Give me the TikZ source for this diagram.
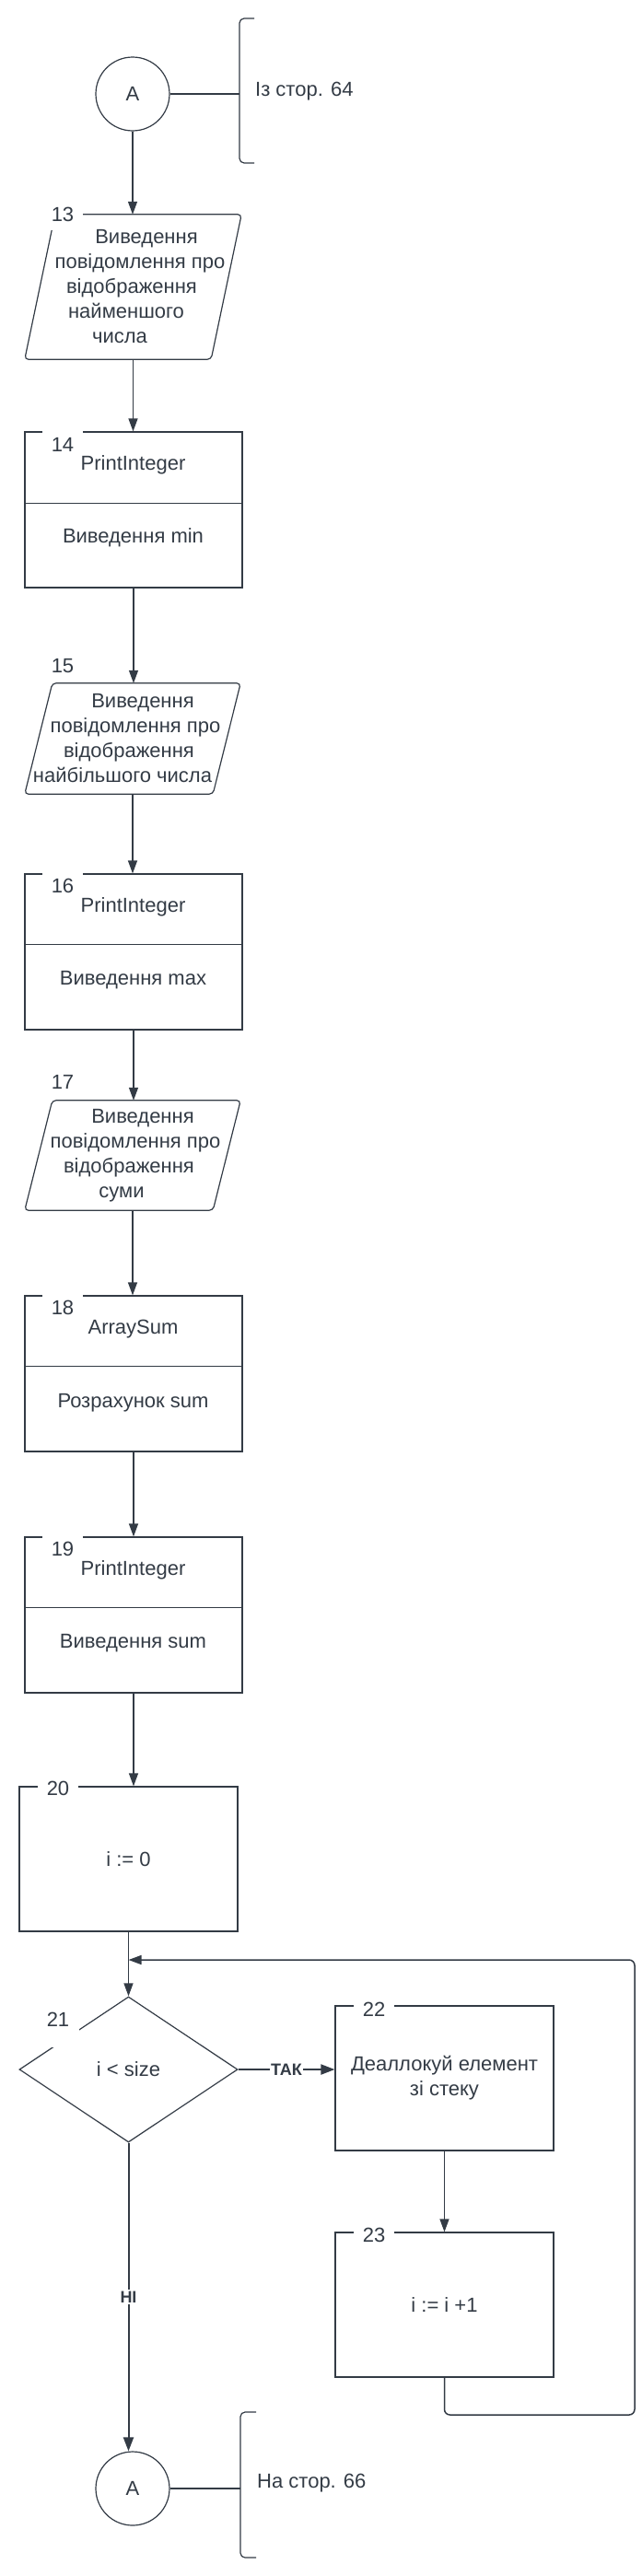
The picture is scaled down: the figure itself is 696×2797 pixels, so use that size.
\documentclass[tikz,border=0pt]{standalone}
\usepackage{fontspec}
\setmainfont{Liberation Sans}
\usetikzlibrary{arrows.meta,shapes.geometric,calc}
\definecolor{ink}{HTML}{333B45}
\newcommand\shln[2]{\makebox[0pt][c]{\hspace*{#1}\hspace*{#1}#2}}
\begin{document}
\begin{tikzpicture}[x=1pt,y=-1pt,
  every node/.style={text=ink, font=\fontsize{22pt}{27pt}\selectfont},
  ln/.style={draw=ink, line width=1.2pt},
  arr/.style={ln, -{Triangle[length=14pt,width=10pt]}},
  thk/.style={draw=ink, line width=2pt, -{Triangle[length=15pt,width=11pt]}},
  rbox/.style={draw=ink, line width=1.2pt, rectangle, inner sep=0pt, align=center},
  pbox/.style={rectangle, inner sep=0pt, align=center},
  num/.style={fill=white, inner xsep=10pt, inner ysep=9pt},
  txt/.style={inner sep=1pt},
  cond/.style={font=\bfseries\fontsize{18pt}{21pt}\selectfont, fill=white, inner xsep=1pt, inner ysep=2pt},
  conn/.style={circle, draw=ink, line width=1.2pt, minimum size=80pt, inner sep=0pt},
  dia/.style={diamond, draw=ink, line width=1.2pt, inner sep=0pt, minimum width=237pt, minimum height=158pt}
]
\useasboundingbox (0,0) rectangle (696,2797);

% --- top connector
\node[conn] (a1) at (144,102) {A};
\draw[ln, rounded corners=5pt] (276,20) -- (260,20) -- (260,177) -- (276,177);
\coordinate (br1) at (260,102);
\draw[ln] (a1.east) -- (br1);
\node[txt, anchor=west] (s1) at (276,99) {Із стор. 64};

% --- 13
\node[pbox, minimum width=235pt, minimum height=157pt] (p13) at (144.5,311.5)
  {\shln{14.5pt}{Виведення}\\ \shln{7.5pt}{повідомлення про}\\ \shln{-1.5pt}{відображення}\\ \shln{-7.5pt}{найменшого}\\ \shln{-14.5pt}{числа}};
\draw[ln, rounded corners=4pt] (p13.south west) -- ([xshift=33pt]p13.north west) -- (p13.north east) -- ([xshift=-33pt]p13.south east) -- cycle;
\node[num] (n13) at (68,233) {13};

% --- 14
\node[rbox, minimum width=236pt, minimum height=169pt] (b14) at (145,553.5) {};
\draw[ln] ([yshift=-78pt]b14.north west) -- ([yshift=-78pt]b14.north east);
\node[num] (n14) at (68,483) {14};
\node (t14a) at (144.5,505) {PrintInteger};
\node (t14b) at (144.5,584) {Виведення min};

% --- 15
\node[pbox, minimum width=234pt, minimum height=120pt] (p15) at (144,802)
  {\shln{11pt}{Виведення}\\ \shln{3pt}{повідомлення про}\\ \shln{-4pt}{відображення}\\ \shln{-11pt}{найбільшого числа}};
\draw[ln, rounded corners=4pt] (p15.south west) -- ([xshift=30pt]p15.north west) -- (p15.north east) -- ([xshift=-30pt]p15.south east) -- cycle;
\node[num] (n15) at (68,723) {15};

% --- 16
\node[rbox, minimum width=236pt, minimum height=169pt] (b16) at (145,1033.5) {};
\draw[ln] ([yshift=-77pt]b16.north west) -- ([yshift=-77pt]b16.north east);
\node[num] (n16) at (68,962) {16};
\node (t16a) at (144.5,985) {PrintInteger};
\node (t16b) at (144.5,1064) {Виведення max};

% --- 17
\node[pbox, minimum width=234pt, minimum height=119pt] (p17) at (144,1254.5)
  {\shln{11pt}{Виведення}\\ \shln{3pt}{повідомлення про}\\ \shln{-4pt}{відображення}\\ \shln{-12pt}{суми}};
\draw[ln, rounded corners=4pt] (p17.south west) -- ([xshift=30pt]p17.north west) -- (p17.north east) -- ([xshift=-30pt]p17.south east) -- cycle;
\node[num] (n17) at (68,1175) {17};

% --- 18
\node[rbox, minimum width=236pt, minimum height=169pt] (b18) at (145,1491.5) {};
\draw[ln] ([yshift=-77pt]b18.north west) -- ([yshift=-77pt]b18.north east);
\node[num] (n18) at (68,1420) {18};
\node (t18a) at (144.5,1443) {ArraySum};
\node (t18b) at (144.5,1523) {Розрахунок sum};

% --- 19
\node[rbox, minimum width=236pt, minimum height=169pt] (b19) at (145,1753.5) {};
\draw[ln] ([yshift=-77pt]b19.north west) -- ([yshift=-77pt]b19.north east);
\node[num] (n19) at (68,1682) {19};
\node (t19a) at (144.5,1705) {PrintInteger};
\node (t19b) at (144.5,1784) {Виведення sum};

% --- 20
\node[rbox, minimum width=237pt, minimum height=157pt] (b20) at (139.5,2018.5) {i := 0};
\node[num] (n20) at (63,1942) {20};

% --- 21
\node[dia] (d21) at (139.5,2247) {i < size};
\fill[white] (42,2176) rectangle (86,2223);
\node (n21) at (63,2193) {21};

% --- 22, 23
\node[rbox, minimum width=237pt, minimum height=157pt] (b22) at (482.5,2256.5) {Деаллокуй елемент\\зі стеку};
\node[num] (n22) at (406,2182) {22};
\node[rbox, minimum width=237pt, minimum height=157pt] (b23) at (482.5,2502.5) {i := i +1};
\node[num] (n23) at (406,2427) {23};

% --- bottom connector
\node[conn] (a2) at (144,2702) {A};
\draw[ln, rounded corners=5pt] (278,2619) -- (261,2619) -- (261,2777) -- (278,2777);
\coordinate (br2) at (261,2702);
\draw[ln] (a2.east) -- (br2);
\node[txt, anchor=west] (s2) at (278,2696) {На стор. 66};

% --- connectors
\draw[arr] (a1.south) -- (a1.south |- p13.north);
\draw[arr] (p13.south) -- (p13.south |- b14.north);
\draw[arr] (b14.south) -- (b14.south |- p15.north);
\draw[arr] (p15.south) -- (p15.south |- b16.north);
\draw[arr] (b16.south) -- (b16.south |- p17.north);
\draw[arr] (p17.south) -- (p17.south |- b18.north);
\draw[arr] (b18.south) -- (b18.south |- b19.north);
\draw[arr] (b19.south) -- (b19.south |- b20.north);
\draw[arr] (b20.south) -- (d21.north);
\draw[thk] (d21.east) -- node[cond] (yes) {ТАК} (d21.east -| b22.west);
\draw[arr] (b22.south) -- (b23.north);
\coordinate (lpA) at (482.5,2622);
\coordinate (lpB) at (689,2622);
\coordinate (lpC) at (689,2128);
\coordinate (jn) at (139.5,2128);
\draw[ln, line width=1.5pt, rounded corners=6pt, -{Triangle[length=14pt,width=10pt]}] (b23.south) -- (lpA) -- (lpB) -- (lpC) -- (jn);
\draw[thk] (d21.south) -- node[cond] (no) {НІ} (d21.south |- a2.north);
\end{tikzpicture}
\end{document}
